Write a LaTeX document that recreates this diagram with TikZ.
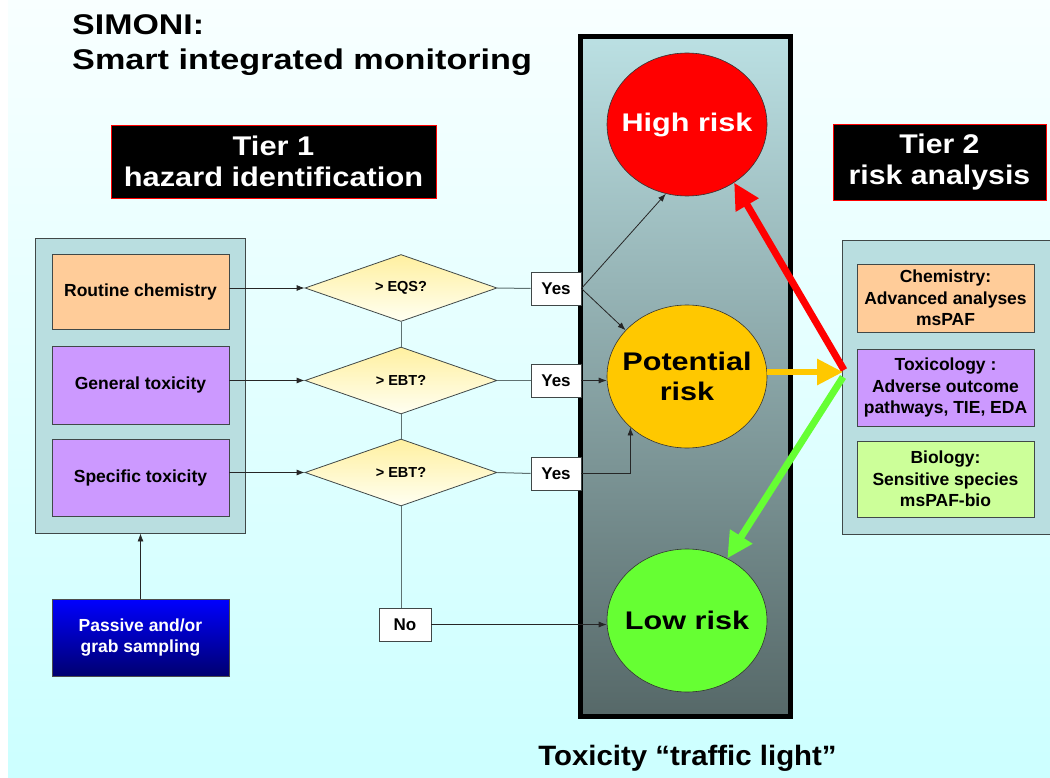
\documentclass[tikz,border=0pt]{standalone}
\usepackage{fontspec}
\setmainfont{Liberation Sans}
\usepackage{graphicx}
\usetikzlibrary{shapes.geometric,arrows.meta,calc}
\definecolor{bgtop}{HTML}{F8FFFF}
\definecolor{bgbot}{HTML}{CCFFFF}
\definecolor{panel}{HTML}{B9DEE0}
\definecolor{orangebox}{HTML}{FFCC99}
\definecolor{purplebox}{HTML}{CC99FF}
\definecolor{greenbox}{HTML}{CCFF99}
\definecolor{coltop}{HTML}{BBE0E3}
\definecolor{colmid}{HTML}{98B6B8}
\definecolor{colbot}{HTML}{566868}
\definecolor{riskred}{HTML}{FF0000}
\definecolor{riskorange}{HTML}{FFC800}
\definecolor{riskgreen}{HTML}{66FF33}
\definecolor{dtop}{HTML}{FFF0A0}
\definecolor{dbot}{HTML}{FFFFF2}
\definecolor{edge}{HTML}{404848}
\definecolor{grayline}{HTML}{5F7272}
\definecolor{bluetop}{HTML}{0000FF}
\definecolor{bluebot}{HTML}{000070}
\newcommand\hstretch[2]{\scalebox{#1}[1]{#2}}
\newcommand\zw[1]{\makebox[0pt]{\hstretch{1.2}{#1}}}
\begin{document}
\begin{tikzpicture}[x=1pt,y=-1pt,
  box/.style={draw=edge, line width=0.8pt, inner sep=0pt, align=center,
    font=\fontsize{17.5}{21.5}\selectfont\bfseries},
  panelbox/.style={draw=edge, line width=0.9pt, fill=panel, inner sep=0pt},
  tierbox/.style={draw=riskred, line width=0.8pt, fill=black, text=white, inner sep=0pt,
    align=center, font=\fontsize{27}{31}\selectfont\bfseries},
  decision/.style={diamond, draw=edge, line width=0.8pt, top color=dtop, bottom color=dbot,
    inner sep=0pt, minimum width=192pt, minimum height=67pt,
    font=\fontsize{14.5}{17}\selectfont\bfseries},
  answer/.style={draw=edge, line width=0.8pt, fill=white, inner sep=0pt,
    minimum width=50pt, minimum height=33pt, font=\fontsize{17}{20}\selectfont\bfseries},
  risk/.style={ellipse, draw=black!80, line width=0.6pt, inner sep=0pt,
    minimum width=160pt, minimum height=143pt, align=center,
    font=\fontsize{25.5}{30}\selectfont\bfseries},
  thin/.style={draw=black!85, line width=0.8pt, -{Latex[length=8pt,width=6pt]}},
  chain/.style={draw=grayline, line width=1pt},
  thick/.style={line width=7pt, line cap=butt, -{Triangle[length=26pt,width=25pt]}}
]
\useasboundingbox (0,0) rectangle (1050,778);
% background
\node[inner sep=0pt, minimum width=1042pt, minimum height=778pt,
  top color=bgtop, bottom color=bgbot] (bg) at (529,389) {};
% title
\node[anchor=base west, inner sep=0pt, font=\fontsize{28.5}{34}\selectfont\bfseries] (t1) at (72,35) {\hstretch{1.19}{SIMONI:}};
\node[anchor=base west, inner sep=0pt, font=\fontsize{28.5}{34}\selectfont\bfseries] (t2) at (72,70) {\hstretch{1.2}{Smart integrated monitoring}};
% tier boxes
\node[tierbox, minimum width=325pt, minimum height=73pt] (tier1) at (273.5,161.5)
  {\hstretch{1.14}{Tier 1}\\\hstretch{1.14}{hazard identification}};
\node[tierbox, minimum width=213pt, minimum height=76pt] (tier2) at (939.5,162)
  {\hstretch{1.12}{Tier 2}\\\hstretch{1.12}{risk analysis}};
% left panel
\node[panelbox, minimum width=210pt, minimum height=295pt] (lp) at (140,385.5) {};
\node[box, fill=orangebox, minimum width=177pt, minimum height=75pt] (rc) at (140.5,291.5) {Routine chemistry};
\node[box, fill=purplebox, minimum width=177pt, minimum height=78pt] (gt) at (140.5,385) {General toxicity};
\node[box, fill=purplebox, minimum width=177pt, minimum height=77pt] (st) at (140.5,477.5) {Specific toxicity};
% sampling
\node[box, draw=black!70, top color=bluetop, bottom color=bluebot, text=white,
  minimum width=177pt, minimum height=77pt] (ps) at (140.5,637.5) {Passive and/or\\grab sampling};
% right panel
\node[panelbox, minimum width=213pt, minimum height=294pt] (rp) at (948.5,387) {};
\node[box, fill=orangebox, minimum width=177pt, minimum height=68pt] (ch) at (945.5,298)
  {Chemistry:\\Advanced analyses\\msPAF};
\node[box, fill=purplebox, minimum width=177pt, minimum height=77pt] (tx) at (945.5,387.5)
  {Toxicology :\\Adverse outcome\\pathways, TIE, EDA};
\node[box, fill=greenbox, minimum width=177pt, minimum height=76pt] (bio) at (945.5,479)
  {Biology:\\Sensitive species\\msPAF-bio};
% traffic light column
\node[draw=black, line width=5pt, inner sep=0pt, minimum width=210pt, minimum height=680pt,
  top color=coltop, middle color=colmid, bottom color=colbot] (col) at (685.5,376.5) {};
\node[risk, fill=riskred, text=white] (high) at (687,124.5) {\zw{High risk}};
\node[risk, fill=riskorange] (pot) at (687,376.5) {\zw{Potential}\\\zw{risk}};
\node[risk, fill=riskgreen] (low) at (687,620.5) {\zw{Low risk}};
\node[anchor=base, inner sep=0pt, font=\fontsize{28}{34}\selectfont\bfseries] (cap) at (687.5,765)
  {\hstretch{1.05}{Toxicity “traffic light”}};
% decisions
\node[decision] (d1) at (401,288) {> EQS?};
\node[decision] (d2) at (401,380.5) {> EBT?};
\node[decision] (d3) at (401,472.5) {> EBT?};
\node[answer] (y1) at (556,288.5) {Yes};
\node[answer] (y2) at (556,380.5) {Yes};
\node[answer] (y3) at (556,473.5) {Yes};
\node[answer, minimum width=52pt] (no) at (405,624.5) {No};
% connectors
\draw[thin] (d1.west -| rc.east) -- (d1.west);
\draw[thin] (d2.west -| gt.east) -- (d2.west);
\draw[thin] (d3.west -| st.east) -- (d3.west);
\draw[thin] (ps.north) -- (ps.north |- lp.south);
\draw[chain] (d1.south) -- (d2.north);
\draw[chain] (d2.south) -- (d3.north);
\draw[chain] (d3.south) -- (d3.south |- no.north);
\draw[chain] (d1.east) -- (y1.west);
\draw[chain] (d2.east) -- (y2.west);
\draw[chain] (d3.east) -- (y3.west);
\draw[thin] (y1.east) -- (high.-107);
\draw[thin] (y1.east) -- (pot.143);
\draw[thin] (y2.east) -- (y2.east -| pot.west);
\draw[thin] (y3.east) -| (pot.-138);
\draw[thin] (no.east) -- (no.east -| low.west);
% tier-2 arrows
\coordinate (J) at (843,372);
\coordinate (Jr) at (844,370);
\coordinate (Jg) at (843,377);
\draw[thick, draw=riskred, fill=riskred] (Jr) -- (high.-51);
\draw[thick, draw=riskgreen, fill=riskgreen] (Jg) -- (low.57);
\draw[thick, line width=6pt, draw=riskorange, fill=riskorange] (J -| pot.east) -- (J);
\end{tikzpicture}
\end{document}
